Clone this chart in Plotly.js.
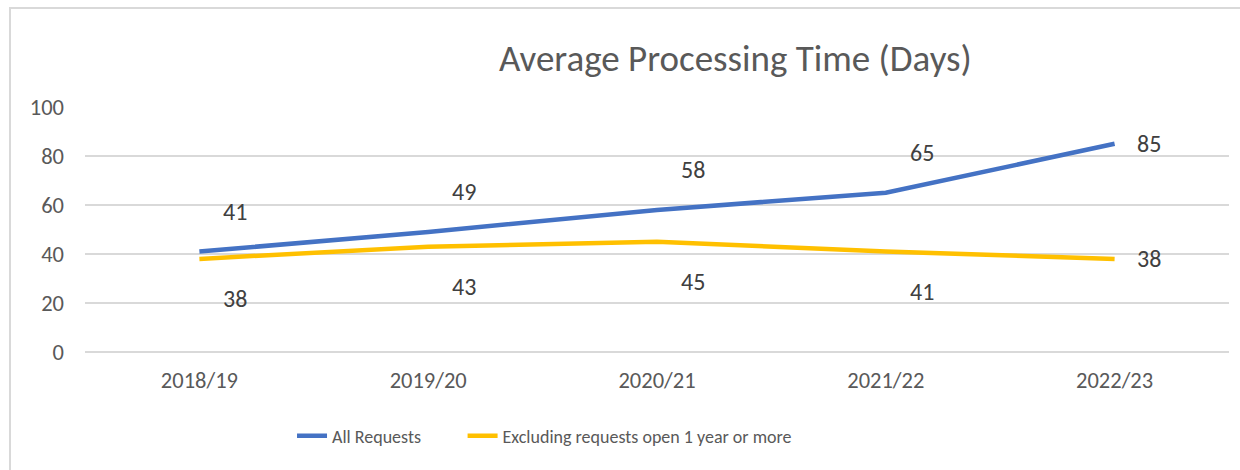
<!DOCTYPE html>
<html>
<head>
<meta charset="utf-8">
<script src="https://cdn.plot.ly/plotly-3.0.1.min.js"></script>
<style>
  html, body { margin: 0; padding: 0; background: #fff; }
  #frame { position: absolute; left: 9px; top: 7px; width: 1240px; height: 470px; border: 2px solid #d9d9d9; box-sizing: border-box; }
  #chart { position: absolute; left: 0; top: 0; width: 1240px; height: 470px; }
</style>
</head>
<body>
<div id="frame"></div>
<div id="chart"></div>
<script>
const years = ["2018/19", "2019/20", "2020/21", "2021/22", "2022/23"];
const allRequests = [41, 49, 58, 65, 85];
const excludingLong = [38, 43, 45, 41, 38];
const seriesNames = ["All Requests", "Excluding requests open 1 year or more"];
const yTicks = [0, 20, 40, 60, 80, 100];

const FONT = "Carlito, Lato, 'Noto Sans', sans-serif";
const TXT = "#595959";
const BLUE = "#4472C4";
const GOLD = "#FFC000";
const PAD = "\u00a0".repeat(9);

const traces = [
  { x: years, y: allRequests, name: seriesNames[0] + PAD, type: "scatter", mode: "lines",
    line: { color: BLUE, width: 4.5 } },
  { x: years, y: excludingLong, name: seriesNames[1], type: "scatter", mode: "lines",
    line: { color: GOLD, width: 4.5 } }
];

const annotations = [];
function addLabels(vals, dir) {
  vals.forEach((v, i) => {
    const last = i === vals.length - 1;
    annotations.push({
      x: years[i], y: v, xref: "x", yref: "y", text: String(v), showarrow: false,
      xshift: last ? 34 : 36, yshift: last ? 0 : dir * 40,
      font: { family: FONT, size: 24, color: "#404040" }
    });
  });
}
addLabels(allRequests, 1);
addLabels(excludingLong, -1);

const layout = {
  width: 1240, height: 470,
  paper_bgcolor: "rgba(0,0,0,0)", plot_bgcolor: "rgba(0,0,0,0)",
  margin: { l: 85, r: 11, t: 107, b: 118 },
  font: { family: FONT, color: TXT },
  title: { text: "Average Processing Time (Days)", xref: "container", yref: "container",
    x: 0.593, xanchor: "center", y: 0.877, yanchor: "middle",
    font: { family: FONT, size: 37, color: TXT } },
  xaxis: { type: "category", range: [-0.5, 4.5], showgrid: false, zeroline: false,
    showline: false, ticks: "", ticklabelstandoff: 12,
    tickfont: { family: FONT, size: 22.5, color: TXT } },
  yaxis: { range: [0, 100], tickvals: yTicks, showgrid: true, gridcolor: "#d9d9d9", gridwidth: 1.5,
    zeroline: true, zerolinecolor: "#d9d9d9", zerolinewidth: 1.5, showline: false, ticks: "",
    ticklabelstandoff: 20, tickfont: { family: FONT, size: 22.5, color: TXT } },
  showlegend: true,
  legend: { orientation: "h", xref: "container", yref: "container", x: 0.2355, xanchor: "left",
    y: 0.072, yanchor: "middle", font: { family: FONT, size: 18, color: TXT }, itemwidth: 30,
    bgcolor: "rgba(0,0,0,0)" },
  annotations: annotations
};

Plotly.newPlot("chart", traces, layout, { displayModeBar: false, staticPlot: true });
</script>
</body>
</html>
